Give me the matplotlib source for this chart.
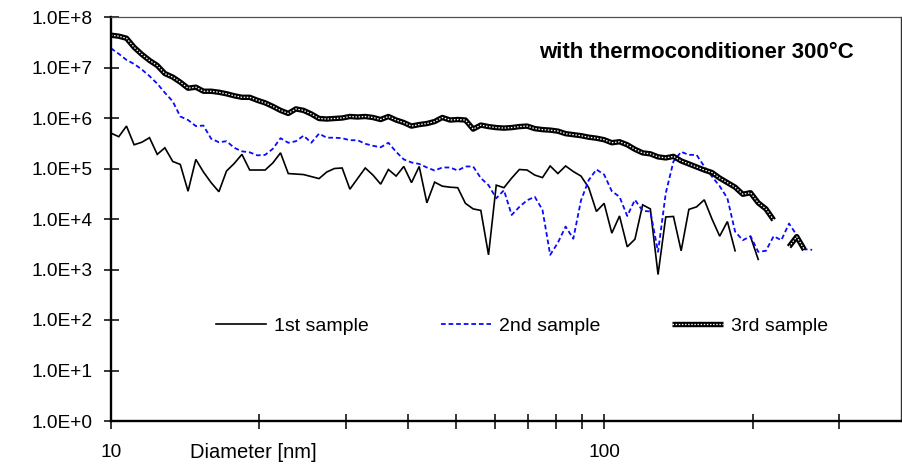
import numpy as np
import matplotlib
matplotlib.use("Agg")
import matplotlib.pyplot as plt
from matplotlib.ticker import FixedLocator, FuncFormatter, NullFormatter, NullLocator

plt.rcParams['font.family'] = ['Liberation Sans', 'DejaVu Sans']

# SMPS channel mid-point diameters [nm]
diameter = [10.0, 10.37, 10.75, 11.14, 11.55, 11.97, 12.41, 12.86, 13.34, 13.82,
            14.33, 14.86, 15.40, 15.96, 16.55, 17.15, 17.78, 18.43, 19.11, 19.81,
            20.54, 21.29, 22.07, 22.88, 23.71, 24.58, 25.48, 26.42, 27.38, 28.39,
            29.43, 30.51, 31.62, 32.78, 33.98, 35.23, 36.52, 37.86, 39.24, 40.68,
            42.17, 43.71, 45.32, 46.98, 48.70, 50.48, 52.33, 54.25, 56.23, 58.29,
            60.43, 62.64, 64.94, 67.32, 69.78, 72.34, 74.99, 77.74, 80.58, 83.54,
            86.60, 89.77, 93.06, 96.47, 100.0, 103.66, 107.46, 111.40, 115.48, 119.71,
            124.09, 128.64, 133.35, 138.24, 143.30, 148.55, 153.99, 159.63, 165.48, 171.54,
            177.83, 184.34, 191.10, 198.10, 205.35, 212.88, 220.67, 228.76, 237.14, 245.82,
            254.83, 264.16]

nan = float('nan')

# log10 of concentration
s1_log10 = [5.70, 5.63, 5.84, 5.47, 5.52, 5.61, 5.28, 5.41, 5.14, 5.08,
            4.55, 5.18, 4.93, 4.72, 4.54, 4.95, 5.10, 5.28, 4.97, 4.97,
            4.97, 5.11, 5.31, 4.90, 4.89, 4.88, 4.84, 4.80, 4.93, 5.00,
            5.01, 4.59, 4.80, 5.01, 4.87, 4.69, 4.98, 4.85, 5.04, 4.72,
            5.04, 4.32, 4.73, 4.65, 4.63, 4.62, 4.31, 4.20, 4.17, 3.29,
            4.67, 4.62, 4.81, 4.98, 4.97, 4.87, 4.82, 5.05, 4.90, 5.05,
            4.94, 4.85, 4.62, 4.15, 4.31, 3.72, 4.06, 3.45, 3.60, 4.28,
            4.20, 2.90, 4.04, 4.05, 3.37, 4.19, 4.24, 4.38, 4.00, 3.66,
            3.95, 3.37, nan, 3.65, 3.20]

s2_log10 = [7.38, 7.27, 7.15, 7.07, 6.96, 6.83, 6.68, 6.50, 6.33, 6.03,
            5.96, 5.84, 5.85, 5.59, 5.52, 5.54, 5.41, 5.34, 5.32, 5.26,
            5.27, 5.39, 5.60, 5.51, 5.54, 5.65, 5.51, 5.69, 5.61, 5.61,
            5.60, 5.56, 5.56, 5.49, 5.45, 5.42, 5.51, 5.33, 5.18, 5.12,
            5.09, 5.02, 4.96, 5.02, 5.02, 4.96, 5.04, 5.04, 4.81, 4.67,
            4.41, 4.57, 4.08, 4.24, 4.37, 4.44, 4.18, 3.29, 3.53, 3.85,
            3.61, 4.37, 4.77, 4.98, 4.88, 4.55, 4.44, 4.06, 4.38, 4.16,
            4.15, 3.35, 4.51, 5.14, 5.33, 5.27, 5.27, 5.04, 4.84, 4.65,
            4.41, 3.75, 3.58, 3.66, 3.35, 3.37, 3.66, 3.58, 3.91, 3.68,
            3.40, 3.39]

s3_log10 = [7.64, 7.62, 7.58, 7.40, 7.26, 7.14, 7.04, 6.88, 6.81, 6.71,
            6.59, 6.61, 6.53, 6.53, 6.51, 6.48, 6.44, 6.41, 6.41, 6.35,
            6.30, 6.23, 6.15, 6.09, 6.18, 6.15, 6.08, 5.99, 5.98, 5.99,
            6.00, 6.03, 6.02, 6.03, 6.01, 5.97, 6.03, 5.96, 5.91, 5.84,
            5.87, 5.89, 5.93, 6.01, 5.96, 5.97, 5.96, 5.78, 5.86, 5.83,
            5.81, 5.80, 5.81, 5.83, 5.84, 5.79, 5.77, 5.76, 5.74, 5.69,
            5.67, 5.65, 5.62, 5.60, 5.57, 5.51, 5.53, 5.47, 5.38, 5.31,
            5.29, 5.23, 5.21, 5.24, 5.15, 5.09, 5.03, 4.97, 4.92, 4.81,
            4.72, 4.63, 4.49, 4.52, 4.32, 4.20, 3.98, nan, 3.45, 3.65,
            3.39]

series_labels = ["1st sample", "2nd sample", "3rd sample"]
title_text = "with thermoconditioner 300\u00b0C"
xlabel_text = "Diameter [nm]"
x_major = [10, 100]
x_minor = [20, 30, 40, 50, 60, 70, 80, 90, 200, 300]
y_ticks = [1e0, 1e1, 1e2, 1e3, 1e4, 1e5, 1e6, 1e7, 1e8]

fig = plt.figure(figsize=(9.03, 4.66), dpi=100)
ax = fig.add_axes([111 / 903, 45 / 466, 790 / 903, 404 / 466])
ax.set_xscale('log')
ax.set_yscale('log')
ax.set_xlim(10, 400)
ax.set_ylim(1, 1e8)

d = np.array(diameter)
y1 = 10 ** np.array(s1_log10)
y2 = 10 ** np.array(s2_log10)
y3 = 10 ** np.array(s3_log10)

l1, = ax.plot(d[:len(y1)], y1, color='black', lw=1.2, solid_joinstyle='miter')
l2, = ax.plot(d[:len(y2)], y2, color='#0a0aff', lw=1.3, linestyle=(0, (2.6, 1.6)))
l3a, = ax.plot(d[:len(y3)], y3, color='black', lw=3.9, solid_capstyle='butt')
l3b, = ax.plot(d[:len(y3)], y3, color='white', lw=0.9, linestyle=(0, (1.2, 1.3)))

ax.xaxis.set_major_locator(FixedLocator(x_major))
ax.xaxis.set_minor_locator(FixedLocator(x_minor))
ax.xaxis.set_major_formatter(FuncFormatter(lambda v, p: f"{v:g}"))
ax.xaxis.set_minor_formatter(NullFormatter())
ax.yaxis.set_major_locator(FixedLocator(y_ticks))
ax.yaxis.set_minor_locator(NullLocator())
ax.yaxis.set_major_formatter(FuncFormatter(lambda v, p: f"1.0E+{int(round(np.log10(v)))}"))

ax.tick_params(which='both', direction='inout', length=10.8, width=1.1, color='black')
ax.tick_params(axis='y', labelsize=13.8, pad=8.0)
ax.tick_params(axis='x', labelsize=13.8, pad=11.0)

for side in ['left', 'bottom']:
    ax.spines[side].set_linewidth(1.7)
    ax.spines[side].set_color('black')
ax.spines['top'].set_linewidth(0.9)
ax.spines['top'].set_color('#505050')
ax.spines['right'].set_linewidth(1.0)
ax.spines['right'].set_color('#303030')

ax.text((539 - 111) / 790, (421 - 52) / 404, title_text, transform=ax.transAxes,
        fontsize=16, fontweight='bold', ha='left', va='center')
ax.text((190 - 111) / 790, (421 - 453) / 404, xlabel_text, transform=ax.transAxes,
        fontsize=14.5, ha='left', va='center')

ax.legend([l1, l2, (l3a, l3b)], series_labels, ncol=3, loc='center',
          bbox_to_anchor=(0.52, 0.235), frameon=False, fontsize=14,
          handlelength=2.6, handletextpad=0.4, columnspacing=3.7)

fig.savefig("out.png", dpi=100)
